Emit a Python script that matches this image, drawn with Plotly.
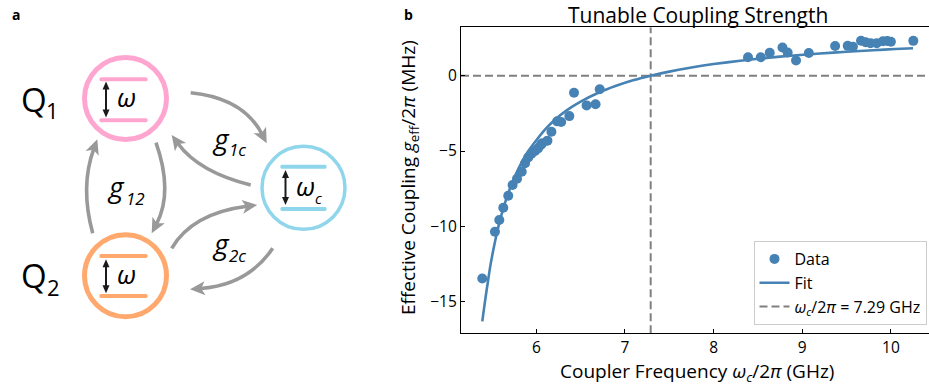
import math
import plotly.graph_objects as go

# ---------------- data ----------------
coupler_freq = [5.39, 5.533, 5.582, 5.627, 5.683, 5.732, 5.782, 5.835, 5.873, 5.909,
                5.945, 5.985, 6.02, 6.05, 6.065, 6.125, 6.17, 6.235, 6.28, 6.372,
                6.425, 6.567, 6.668, 6.715,
                8.388, 8.532, 8.633, 8.777, 8.835, 8.93, 9.074, 9.371, 9.513, 9.572,
                9.663, 9.715, 9.77, 9.84, 9.91, 9.96, 10.0, 10.253]
g_eff = [-13.45, -10.35, -9.57, -8.76, -7.96, -7.25, -6.84, -6.37, -5.81, -5.42,
         -5.18, -5.0, -4.82, -4.6, -4.49, -4.31, -3.72, -3.03, -3.07, -2.68,
         -1.13, -1.97, -1.89, -0.9,
         1.22, 1.22, 1.52, 1.87, 1.54, 1.01, 1.51, 1.97, 1.98, 1.92,
         2.32, 2.22, 2.16, 2.16, 2.28, 2.3, 2.25, 2.31]

fit_freq = [5.39, 5.42, 5.45, 5.48, 5.52, 5.56, 5.6, 5.65, 5.7, 5.8, 5.9, 6.0, 6.1,
            6.2, 6.35, 6.5, 6.7, 6.9, 7.1, 7.29, 7.5, 7.75, 8.0, 8.3, 8.6, 8.9,
            9.2, 9.5, 9.8, 10.05, 10.25]
g_fit = [-16.3, -15.0, -13.8, -12.65, -11.4, -10.3, -9.37, -8.37, -7.52, -6.14,
         -5.08, -4.28, -3.56, -2.97, -2.27, -1.72, -1.13, -0.67, -0.29, 0.0,
         0.27, 0.54, 0.77, 0.99, 1.18, 1.34, 1.47, 1.59, 1.69, 1.77, 1.82]

decoupling_freq = 7.29
x_range = [5.15, 10.43]
y_range = [-17.09, 3.21]
x_ticks = [6, 7, 8, 9, 10]
y_ticks = [0, -5, -10, -15]

# ---------------- styling ----------------
W, H = 929, 388
FONT = "Open Sans"
BLUE = "#4682b4"
GREY = "#808080"
ARROW_GREY = "#999999"
PINK = "#ffa6d0"
ORANGE = "#ffa96f"
CYAN = "#8fd6ec"
INK = "#000000"


def X(px):
    return px / W


def Y(py):
    return 1 - py / H


fig = go.Figure()

fig.add_trace(go.Scatter(x=x_range, y=[0, 0], mode="lines", showlegend=False,
                         line=dict(color=GREY, width=2, dash="8px,4px"), hoverinfo="skip"))
fig.add_trace(go.Scatter(x=[decoupling_freq, decoupling_freq], y=y_range, mode="lines",
                         name="<i>ω<sub>c</sub></i>/2<i>π</i> = 7.29 GHz", legendrank=3,
                         line=dict(color=GREY, width=2, dash="8px,4px"), hoverinfo="skip"))
fig.add_trace(go.Scatter(x=coupler_freq, y=g_eff, mode="markers", name="Data", legendrank=1,
                         marker=dict(color=BLUE, size=10)))
fig.add_trace(go.Scatter(x=fit_freq, y=g_fit, mode="lines", name="Fit", legendrank=2,
                         line=dict(color=BLUE, width=2.6, shape="spline", smoothing=0.6)))

x0_dom = 461 / W
fig.update_layout(
    width=W, height=H,
    margin=dict(l=0, r=0, t=0, b=0),
    paper_bgcolor="white", plot_bgcolor="white",
    font=dict(family=FONT, color=INK),
    xaxis=dict(domain=[x0_dom, 1.0], range=x_range, tickvals=x_ticks,
               showgrid=False, zeroline=False, showline=True, linecolor="black",
               linewidth=1.3, mirror=True, ticks="inside", ticklen=4, tickwidth=1,
               tickcolor="black", tickfont=dict(size=15.5, family=FONT, color=INK)),
    yaxis=dict(domain=[Y(333.3), Y(27.3)], range=y_range, tickvals=y_ticks,
               showgrid=False, zeroline=False, showline=True, linecolor="black",
               linewidth=1.3, ticks="inside", ticklen=4, tickwidth=1,
               tickcolor="black", tickfont=dict(size=15.5, family=FONT, color=INK)),
    legend=dict(x=X(926.5), y=Y(325), xanchor="right", yanchor="bottom",
                bgcolor="rgba(255,255,255,0.85)", bordercolor="#cccccc", borderwidth=1,
                font=dict(size=16, family=FONT, color=INK)),
    showlegend=True,
)

ann = []


def text(px, py, s, size, bold=False, italic=False, angle=0, color=INK):
    if italic:
        s = "<i>" + s + "</i>"
    if bold:
        s = "<b>" + s + "</b>"
    ann.append(dict(x=X(px), y=Y(py), xref="paper", yref="paper", text=s, showarrow=False,
                    xanchor="center", yanchor="middle", textangle=angle,
                    font=dict(size=size, family=FONT, color=color)))


# panel labels, title, axis titles
text(16, 15, "a", 14, bold=True)
text(408, 15, "b", 14, bold=True)
text(698, 15, "Tunable Coupling Strength", 21)
text(697, 372, "Coupler Frequency <i>ω<sub>c</sub></i>/2<i>π</i> (GHz)", 19)
text(409, 178, "Effective Coupling <i>g</i><sub>eff</sub>/2<i>π</i> (MHz)", 19, angle=-90)

shapes = []


def circle(cx, cy, r, color, w):
    shapes.append(dict(type="circle", xref="paper", yref="paper",
                       x0=X(cx - r), x1=X(cx + r), y0=Y(cy + r), y1=Y(cy - r),
                       line=dict(color=color, width=w)))


def bar(x0, x1, y, color, t=4.0):
    r = t / 2
    k = 1.1 * r
    p = (f"M {X(x0)},{Y(y - r)} L {X(x1)},{Y(y - r)} "
         f"C {X(x1 + k)},{Y(y - r)} {X(x1 + k)},{Y(y + r)} {X(x1)},{Y(y + r)} "
         f"L {X(x0)},{Y(y + r)} "
         f"C {X(x0 - k)},{Y(y + r)} {X(x0 - k)},{Y(y - r)} {X(x0)},{Y(y - r)} Z")
    shapes.append(dict(type="path", xref="paper", yref="paper", path=p,
                       fillcolor=color, line=dict(width=0)))


def head(tip, d, length, width, color, notch=0.75):
    dx, dy = d
    nx, ny = -dy, dx
    bx, by = tip[0] - dx * length, tip[1] - dy * length
    lx, ly = bx + nx * width / 2, by + ny * width / 2
    rx, ry = bx - nx * width / 2, by - ny * width / 2
    mx, my = tip[0] - dx * length * notch, tip[1] - dy * length * notch
    p = (f"M {X(tip[0])},{Y(tip[1])} L {X(lx)},{Y(ly)} L {X(mx)},{Y(my)} "
         f"L {X(rx)},{Y(ry)} Z")
    shapes.append(dict(type="path", xref="paper", yref="paper", path=p,
                       fillcolor=color, line=dict(width=0)))


def curved_arrow(p0, c, p2, color=ARROW_GREY, w=3.6, hl=15, hw=14):
    dx, dy = p2[0] - c[0], p2[1] - c[1]
    n = math.hypot(dx, dy)
    dx, dy = dx / n, dy / n
    e = (p2[0] - dx * hl * 0.7, p2[1] - dy * hl * 0.7)
    p = f"M {X(p0[0])},{Y(p0[1])} Q {X(c[0])},{Y(c[1])} {X(e[0])},{Y(e[1])}"
    shapes.append(dict(type="path", xref="paper", yref="paper", path=p,
                       line=dict(color=color, width=w)))
    head(p2, (dx, dy), hl, hw, color)


def double_arrow(x, y0, y1, color="#1a1a1a", w=2.0, hl=8, hw=7):
    shapes.append(dict(type="line", xref="paper", yref="paper",
                       x0=X(x), x1=X(x), y0=Y(y0 + hl * 0.6), y1=Y(y1 - hl * 0.6),
                       line=dict(color=color, width=w)))
    head((x, y0), (0, -1), hl, hw, color, notch=1.0)
    head((x, y1), (0, 1), hl, hw, color, notch=1.0)


# qubit / coupler circles
circle(125.5, 98.5, 41, PINK, 5)
circle(125.5, 275.8, 41, ORANGE, 5)
circle(303.5, 187.8, 41.5, CYAN, 3.5)

# energy levels
bar(101, 146, 79.3, PINK)
bar(101, 146, 120.3, PINK)
bar(101, 146, 256, ORANGE)
bar(101, 146, 296, ORANGE)
bar(282, 325, 166.7, CYAN)
bar(282, 325, 209, CYAN)

double_arrow(106, 81.5, 117.5)
double_arrow(106, 259.3, 293.3)
double_arrow(285.5, 170, 205)

# coupling arrows
curved_arrow((190.7, 92.7), (243.3, 98), (266.7, 143.3))
curved_arrow((250.7, 185), (198.8, 172), (171.7, 135))
curved_arrow((156, 142.7), (173.3, 192), (151.7, 233.3))
curved_arrow((92.7, 233.3), (80, 186.7), (97.3, 139.3))
curved_arrow((171.7, 248.3), (192.5, 213.3), (257.3, 205))
curved_arrow((272.7, 248.3), (247.8, 285), (190, 289.3))

# diagram text
text(34, 99, "Q", 33)
text(52.5, 110, "1", 22)
text(34, 275, "Q", 33)
text(53, 287, "2", 22)
text(126, 97, "ω", 26, italic=True)
text(126, 274, "ω", 26, italic=True)
text(305, 186, "ω", 26, italic=True)
text(318.5, 197.5, "c", 15, italic=True)
text(221, 138, "g", 28, italic=True)
text(238, 150, "1c", 17, italic=True)
text(116, 186, "g", 28, italic=True)
text(135, 198, "12", 17, italic=True)
text(221, 243, "g", 28, italic=True)
text(238, 255, "2c", 17, italic=True)

fig.update_layout(annotations=ann, shapes=shapes)

fig.write_html("out.html", config={"displayModeBar": False},
               post_script="document.body.style.margin='0';")
